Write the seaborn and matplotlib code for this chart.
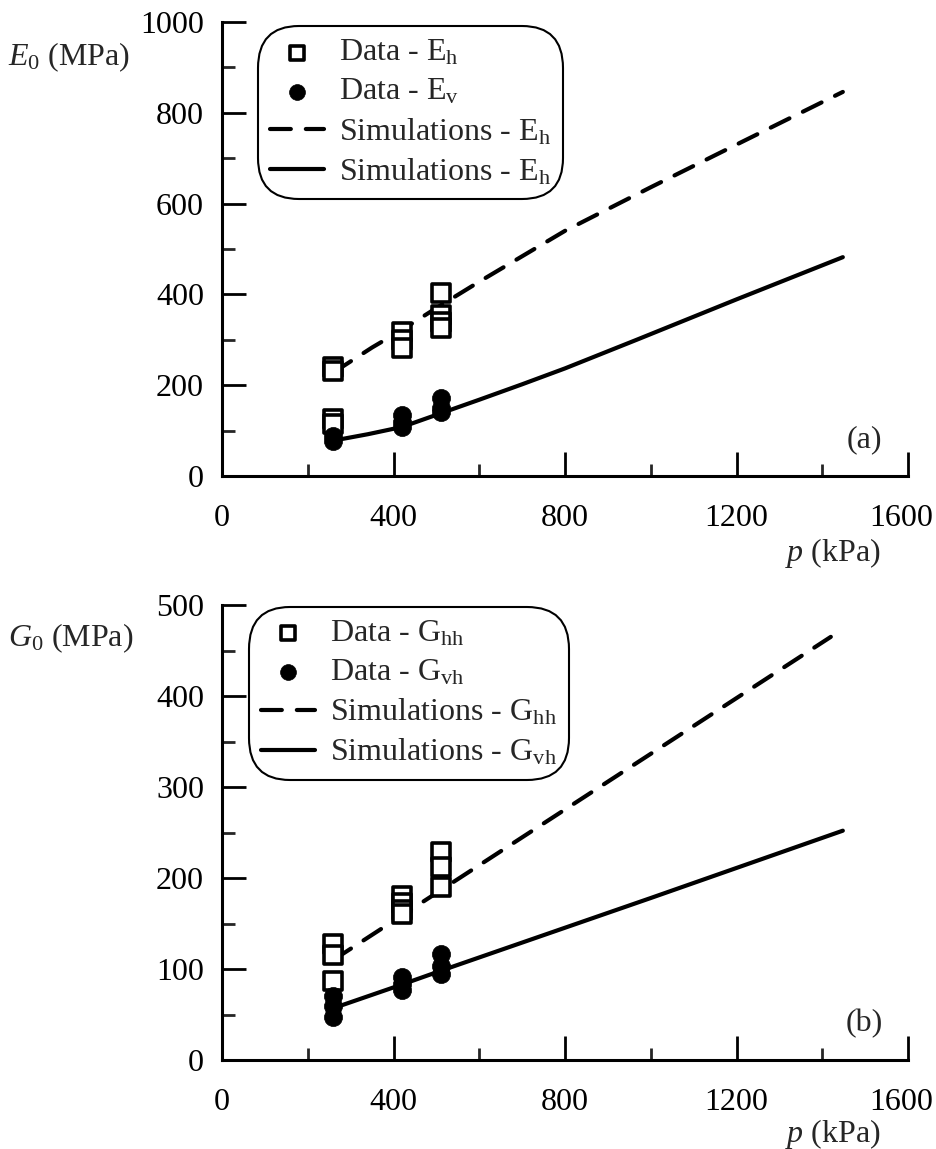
import numpy as np
import pandas as pd
import matplotlib
matplotlib.use("Agg")
import matplotlib.pyplot as plt
import matplotlib.transforms as mtrans
import seaborn as sns
from matplotlib.ticker import MultipleLocator

sns.set_style("ticks")
plt.rcParams['font.family'] = ['Liberation Serif', 'DejaVu Serif']
plt.rcParams['mathtext.fontset'] = 'custom'
plt.rcParams['mathtext.rm'] = 'Liberation Serif'
plt.rcParams['mathtext.it'] = 'Liberation Serif:italic'
plt.rcParams['mathtext.bf'] = 'Liberation Serif:bold'

# ---- Data panel (a) ----
eh_p = [260, 260, 260, 260, 420, 420, 420, 510, 510, 510, 510]
eh_v = [240, 232, 126, 115, 318, 300, 283, 402, 355, 340, 325]
ev_p = [260, 260, 420, 420, 420, 510, 510, 510]
ev_v = [78, 88, 134, 120, 108, 172, 150, 140]
sim_eh_p = [260, 350, 420, 500, 600, 800, 1000, 1200, 1448]
sim_eh_v = [228, 283, 322, 370, 428, 540, 636, 730, 846]
sim_ev_p = [260, 340, 420, 510, 600, 700, 800, 967, 1200, 1448]
sim_ev_v = [78, 92, 108, 138, 168, 202, 237, 300, 389, 482]

# ---- Data panel (b) ----
ghh_p = [260, 260, 260, 420, 420, 420, 420, 510, 510, 510]
ghh_v = [128, 115, 87, 180, 172, 165, 160, 229, 212, 190]
gvh_p = [260, 260, 260, 420, 420, 420, 510, 510, 510]
gvh_v = [70, 59, 47, 91, 84, 77, 117, 103, 95]
sim_ghh_p = [260, 1420]
sim_ghh_v = [110, 465]
sim_gvh_p = [260, 420, 510, 1000, 1448]
sim_gvh_v = [57, 83, 98, 178, 252]

xticks = [0, 400, 800, 1200, 1600]

FS = 23

fig = plt.figure(figsize=(9.37, 11.49), dpi=100)
axA = fig.add_axes([222/937, 1-476/1149, 686/937, 454/1149])
axB = fig.add_axes([222/937, 1-1060/1149, 686/937, 455/1149])

lw = 3.0
dash = (0, (5.0, 3.6))


def panel(ax, sq_p, sq_v, ci_p, ci_v, d_p, d_v, s_p, s_v, labels, ymax, ymaj, ymin_,
          ylab, ylab_y, xlab_y, tag, leg_anchor):
    sns.scatterplot(x=sq_p, y=sq_v, ax=ax, marker='s', s=150, facecolor='white',
                    edgecolor='black', linewidth=2.6, label=labels[0], zorder=4)
    sns.scatterplot(x=ci_p, y=ci_v, ax=ax, marker='o', s=170, color='black',
                    edgecolor='black', linewidth=0.5, label=labels[1], zorder=4)
    sns.lineplot(x=d_p, y=d_v, ax=ax, color='black', lw=lw, linestyle=dash,
                 label=labels[2], zorder=3, estimator=None, sort=False)
    sns.lineplot(x=s_p, y=s_v, ax=ax, color='black', lw=lw, linestyle='-',
                 label=labels[3], zorder=3, estimator=None, sort=False)
    for ln in ax.get_lines():
        ln.set_solid_capstyle('round')
        ln.set_dash_capstyle('round')
    ax.set_xlim(0, 1600)
    ax.set_ylim(0, ymax)
    ax.set_xticks(xticks)
    ax.xaxis.set_minor_locator(MultipleLocator(200))
    ax.yaxis.set_major_locator(MultipleLocator(ymaj))
    ax.yaxis.set_minor_locator(MultipleLocator(ymin_))
    ax.tick_params(which='major', direction='in', length=17, width=2, labelsize=FS,
                   colors='black')
    ax.tick_params(axis='x', which='major', pad=20)
    ax.tick_params(axis='y', which='major', pad=13)
    ax.tick_params(which='minor', direction='in', length=9, width=2)
    for s in ['top', 'right']:
        ax.spines[s].set_visible(False)
    for s in ['left', 'bottom']:
        ax.spines[s].set_linewidth(2.2)
        ax.spines[s].set_color('black')
    ax.set_xlabel('')
    ax.set_ylabel('')
    # shift the last x tick label slightly left so it stays inside the figure
    last = ax.get_xticklabels()[-1]
    last.set_transform(last.get_transform() +
                       mtrans.ScaledTranslation(-0.07, 0, fig.dpi_scale_trans))
    ax.text(-0.312, ylab_y, ylab, transform=ax.transAxes, fontsize=FS,
            ha='left', va='center')
    ax.text(0.96, xlab_y, r'$\mathit{p}$ (kPa)', transform=ax.transAxes, fontsize=FS,
            ha='right', va='center')
    ax.text(0.963, 0.08, tag, transform=ax.transAxes, fontsize=FS,
            ha='right', va='center')
    leg = ax.legend(loc='upper left', bbox_to_anchor=leg_anchor, fontsize=FS,
                    frameon=True, fancybox=True, edgecolor='black', framealpha=1,
                    handlelength=1.7, handletextpad=0.45, labelspacing=0.3,
                    borderpad=0.3, borderaxespad=0)
    leg.get_frame().set_linewidth(1.5)
    leg.get_frame().set_boxstyle('round', pad=0.08, rounding_size=1.3)
    hs = leg.legend_handles
    hs[0].set_sizes([90])
    hs[1].set_sizes([130])


panel(axA, eh_p, eh_v, ev_p, ev_v, sim_eh_p, sim_eh_v, sim_ev_p, sim_ev_v,
      [r'Data - E$_{\rm h}$', r'Data - E$_{\rm v}$', r'Simulations - E$_{\rm h}$',
       r'Simulations - E$_{\rm h}$'],
      1000, 200, 100, r'$E_0$ (MPa)', 0.922, -0.17, '(a)', (0.056, 0.985))
panel(axB, ghh_p, ghh_v, gvh_p, gvh_v, sim_ghh_p, sim_ghh_v, sim_gvh_p, sim_gvh_v,
      [r'Data - G$_{\rm hh}$', r'Data - G$_{\rm vh}$', r'Simulations - G$_{\rm hh}$',
       r'Simulations - G$_{\rm vh}$'],
      500, 100, 50, r'$G_0$ (MPa)', 0.927, -0.163, '(b)', (0.043, 0.99))

fig.savefig('out.png', dpi=100)
